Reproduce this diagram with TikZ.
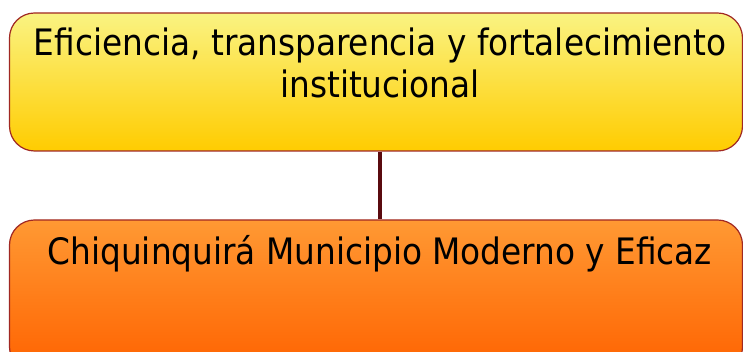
\documentclass[tikz,border=0pt]{standalone}
\usepackage{fontspec}
\setmainfont{DejaVu Sans Condensed}
\usepackage{xcolor}
\usetikzlibrary{calc}
\definecolor{boxline}{RGB}{160, 40, 35}
\definecolor{linkline}{RGB}{90, 10, 15}
\definecolor{yellowtop}{RGB}{250, 243, 130}
\definecolor{yellowbot}{RGB}{255, 204, 0}
\definecolor{orangetop}{RGB}{255, 153, 51}
\definecolor{orangebot}{RGB}{255, 98, 0}
\tikzset{
  goalbox/.style={draw=boxline, line width=1.2pt, rounded corners=25pt,
    minimum width=733pt, inner sep=0pt},
  goaltext/.style={font=\fontsize{36.4}{42}\selectfont, align=center, anchor=north}
}

\begin{document}
\begin{tikzpicture}[x=1pt,y=1pt]
\useasboundingbox (0,0) rectangle (743,352);
\clip (0,0) rectangle (743,352);
% Upper box
\node[goalbox, minimum height=138pt, top color=yellowtop, bottom color=yellowbot]
  (eje) at (376,270) {};
\node[goaltext] (ejetext) at ($(eje.north)+(4,-12)$)
  {Eficiencia, transparencia y fortalecimiento\\institucional};
% Lower box
\node[goalbox, minimum height=152pt, top color=orangetop, bottom color=orangebot]
  (programa) at (376,56) {};
\node[goaltext] (programatext) at ($(programa.north)+(4,-12)$)
  {Chiquinquirá Municipio Moderno y Eficaz};
% Link between the two levels
\draw[linkline, line width=3.5pt] ([xshift=4pt]eje.south) -- ([xshift=4pt]programa.north);
\end{tikzpicture}
\end{document}
